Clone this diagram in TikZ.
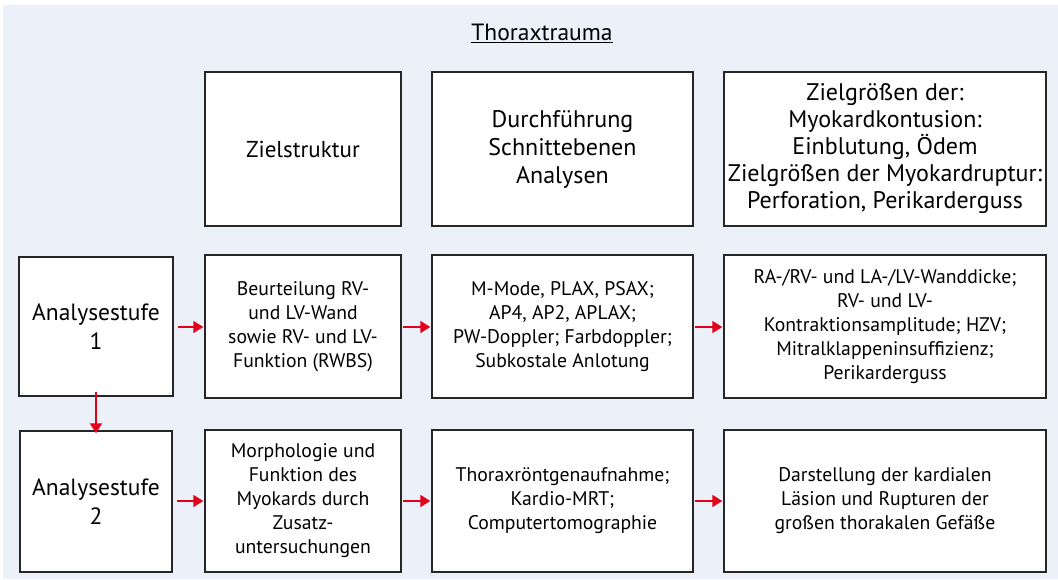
\documentclass[tikz,border=0pt]{standalone}
\usepackage{fontspec}
\setmainfont{PT Sans}
\usetikzlibrary{arrows.meta}
\definecolor{bgcol}{RGB}{236,240,249}
\definecolor{arrred}{RGB}{226,0,26}
\begin{document}
\begin{tikzpicture}[x=1pt,y=-1pt,
  box/.style={draw=black!85, line width=1.4pt, fill=white, align=center, inner sep=0pt,
    font=\fontsize{19.7}{24}\selectfont},
  bigbox/.style={box, font=\fontsize{23.5}{28.5}\selectfont},
  topbox/.style={box, font=\fontsize{24}{28}\selectfont, minimum height=154pt},
  arr/.style={draw=arrred, line width=1.4pt, -{Triangle[length=10pt,width=12pt]}}]
\useasboundingbox (0,0) rectangle (1058,579);
\fill[bgcol] (3,5) rectangle (1058,579);
\node[font=\fontsize{23.5}{28}\selectfont] (title) at (542,33) {\underline{Thoraxtrauma}};
% top row
\node[topbox, font=\fontsize{23}{28}\selectfont, minimum width=196pt] (z1) at (303,149) {Zielstruktur};
\node[topbox, minimum width=261pt] (z2) at (562.5,149) {Durchführung\\Schnittebenen\\Analysen};
\node[topbox, font=\fontsize{24}{27}\selectfont, minimum width=322pt] (z3) at (885,149) {Zielgrößen der:\\Myokardkontusion:\\Einblutung, Ödem\\Zielgrößen der Myokardruptur:\\Perforation, Perikarderguss};
% row 1
\node[bigbox, minimum width=154pt, minimum height=139pt] (a1) at (96,326.5) {Analysestufe\\1};
\node[box, minimum width=196pt, minimum height=143pt] (b1) at (303,326.5) {Beurteilung RV-\\und LV-Wand\\sowie RV- und LV-\\Funktion (RWBS)};
\node[box, minimum width=261pt, minimum height=143pt] (c1) at (562.5,326.5) {M-Mode, PLAX, PSAX;\\AP4, AP2, APLAX;\\PW-Doppler; Farbdoppler;\\Subkostale Anlotung};
\node[box, minimum width=322pt, minimum height=143pt] (d1) at (885,326.5) {RA-/RV- und LA-/LV-Wanddicke;\\RV- und LV-\\Kontraktionsamplitude; HZV;\\Mitralklappeninsuffizienz;\\Perikarderguss};
% row 2
\node[bigbox, minimum width=152pt, minimum height=141pt] (a2) at (96,501.5) {Analysestufe\\2};
\node[box, minimum width=196pt, minimum height=142pt] (b2) at (303,501) {Morphologie und\\Funktion des\\Myokards durch\\Zusatz-\\untersuchungen};
\node[box, minimum width=261pt, minimum height=142pt] (c2) at (562.5,501) {Thoraxröntgenaufnahme;\\Kardio-MRT;\\Computertomographie};
\node[box, minimum width=322pt, minimum height=142pt] (d2) at (885,501) {Darstellung der kardialen\\Läsion und Rupturen der\\großen thorakalen Gefäße};
% arrows
\draw[arr] ([xshift=4pt]a1.east |- 0,327) -- ([xshift=-1pt]b1.west |- 0,327);
\draw[arr] ([xshift=1pt]b1.east |- 0,327) -- ([xshift=-1pt]c1.west |- 0,327);
\draw[arr] ([xshift=1pt]c1.east |- 0,327) -- ([xshift=-1pt]d1.west |- 0,327);
\draw[arr] ([xshift=4pt]a2.east |- 0,501) -- ([xshift=-1pt]b2.west |- 0,501);
\draw[arr] ([xshift=1pt]b2.east |- 0,501) -- ([xshift=-1pt]c2.west |- 0,501);
\draw[arr] ([xshift=1pt]c2.east |- 0,501) -- ([xshift=-1pt]d2.west |- 0,501);
\draw[arr] ([yshift=5pt]a1.south) -- ([yshift=-3pt]a2.north);
\end{tikzpicture}
\end{document}
